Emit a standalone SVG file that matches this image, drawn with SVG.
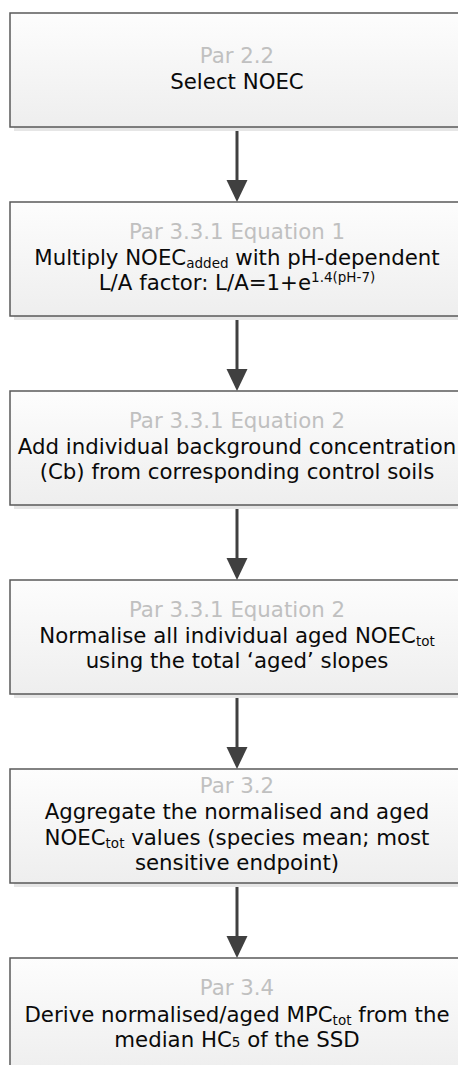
<svg xmlns="http://www.w3.org/2000/svg" width="458" height="1065" viewBox="0 0 458 1065">
<defs>
<linearGradient id="g" x1="0" y1="0" x2="0" y2="1">
<stop offset="0" stop-color="#fdfdfd"/>
<stop offset="1" stop-color="#eeeeee"/>
</linearGradient>
</defs>
<style>
.sh{fill:#e6e6e6}
.bx{fill:url(#g);stroke:#595959;stroke-width:1.5}
text{font-family:"DejaVu Sans",Verdana,sans-serif;font-size:21.3px;text-anchor:middle;fill:#0a0a0a}
.ref{fill:#c0c0c0}
.s{font-size:13.5px}
.c{stroke:#404040;stroke-width:3;fill:none}
.h{fill:#404040}
</style>
<rect width="458" height="1065" fill="#ffffff"/>
<g id="connectors">
<line class="c" x1="237" y1="127" x2="237" y2="182"/>
<polygon class="h" points="226.5,180 247.5,180 237,202"/>
<line class="c" x1="237" y1="316" x2="237" y2="371"/>
<polygon class="h" points="226.5,369 247.5,369 237,391"/>
<line class="c" x1="237" y1="505" x2="237" y2="560"/>
<polygon class="h" points="226.5,558 247.5,558 237,580"/>
<line class="c" x1="237" y1="694" x2="237" y2="749"/>
<polygon class="h" points="226.5,747 247.5,747 237,769"/>
<line class="c" x1="237" y1="883" x2="237" y2="938"/>
<polygon class="h" points="226.5,936 247.5,936 237,958"/>
</g>
<g id="n1">
<rect class="sh" x="14" y="17" width="454" height="114"/>
<rect class="bx" x="10" y="13" width="454" height="114"/>
<text x="237" y="63" class="ref">Par 2.2</text>
<text x="237" y="89">Select NOEC</text>
</g>
<g id="n2">
<rect class="sh" x="14" y="206" width="454" height="114"/>
<rect class="bx" x="10" y="202" width="454" height="114"/>
<text x="237" y="239" class="ref">Par 3.3.1 Equation 1</text>
<text x="237" y="265">Multiply NOEC<tspan class="s" dy="3">added</tspan><tspan dy="-3"> with pH-dependent</tspan></text>
<text x="237" y="290">L/A factor: L/A=1+e<tspan class="s" dy="-8">1.4(pH-7)</tspan></text>
</g>
<g id="n3">
<rect class="sh" x="14" y="395" width="454" height="114"/>
<rect class="bx" x="10" y="391" width="454" height="114"/>
<text x="237" y="428" class="ref">Par 3.3.1 Equation 2</text>
<text x="237" y="454">Add individual background concentration</text>
<text x="237" y="479">(Cb) from corresponding control soils</text>
</g>
<g id="n4">
<rect class="sh" x="14" y="584" width="454" height="114"/>
<rect class="bx" x="10" y="580" width="454" height="114"/>
<text x="237" y="617" class="ref">Par 3.3.1 Equation 2</text>
<text x="237" y="643">Normalise all individual aged NOEC<tspan class="s" dy="3">tot</tspan></text>
<text x="237" y="668">using the total ‘aged’ slopes</text>
</g>
<g id="n5">
<rect class="sh" x="14" y="773" width="454" height="114"/>
<rect class="bx" x="10" y="769" width="454" height="114"/>
<text x="237" y="793" class="ref">Par 3.2</text>
<text x="237" y="819">Aggregate the normalised and aged</text>
<text x="237" y="845">NOEC<tspan class="s" dy="3">tot</tspan><tspan dy="-3"> values (species mean; most</tspan></text>
<text x="237" y="870">sensitive endpoint)</text>
</g>
<g id="n6">
<rect class="sh" x="14" y="962" width="454" height="114"/>
<rect class="bx" x="10" y="958" width="454" height="114"/>
<text x="237" y="995" class="ref">Par 3.4</text>
<text x="237" y="1022">Derive normalised/aged MPC<tspan class="s" dy="3">tot</tspan><tspan dy="-3"> from the</tspan></text>
<text x="237" y="1047">median HC<tspan class="s">5</tspan> of the SSD</text>
</g>
</svg>
